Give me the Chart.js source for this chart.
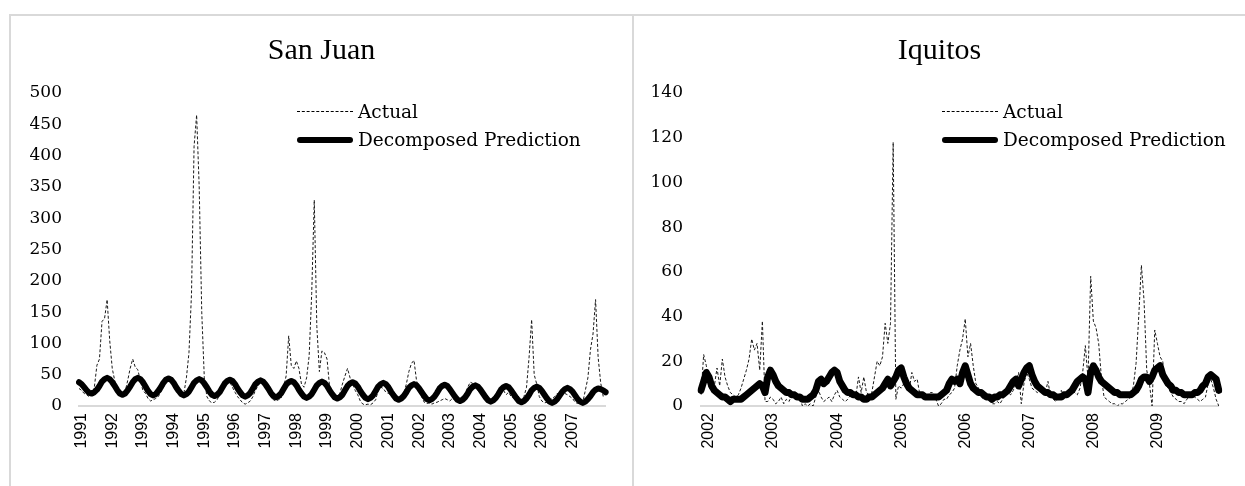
<!DOCTYPE html>
<html>
<head>
<meta charset="utf-8">
<script src="https://cdn.jsdelivr.net/npm/chart.js@4.4.0/dist/chart.umd.min.js"></script>
<style>
    html, body { margin: 0; padding: 0; background: #ffffff; }
    body { width: 1245px; height: 486px; position: relative; overflow: hidden; }
    .frame-top { position: absolute; left: 10px; top: 14px; width: 1235px; height: 0; border-top: 2px solid #d9d9d9; }
    .frame-left { position: absolute; left: 9px; top: 14px; width: 0; height: 472px; border-left: 2px solid #d9d9d9; }
    .frame-mid { position: absolute; left: 632px; top: 14px; width: 0; height: 472px; border-left: 2px solid #d9d9d9; }
    canvas { position: absolute; }
    #sanJuan { left: 11px; top: 16px; }
    #iquitos { left: 634px; top: 16px; }
    .legend { position: absolute; font-family: 'DejaVu Serif', serif; font-size: 18.5px; color: #000; }
    .legend .row { position: absolute; left: 0; white-space: nowrap; height: 24px; line-height: 24px; }
    .legend .dash { position: absolute; left: 0; top: 11px; width: 56px; border-top: 1px dashed #000; }
    .legend .thick { position: absolute; left: 0; top: 9px; width: 56px; height: 6px; background: #000; border-radius: 3px; }
    .legend .txt { position: absolute; left: 61px; top: 0; }
</style>
</head>
<body>
<div class="frame-top"></div>
<div class="frame-left"></div>
<div class="frame-mid"></div>
<canvas id="sanJuan" width="621" height="470"></canvas>
<canvas id="iquitos" width="611" height="470"></canvas>

<div class="legend" style="left:297px; top:0;">
    <div class="row" style="top:100px;"><div class="dash"></div><div class="txt">Actual</div></div>
    <div class="row" style="top:128px;"><div class="thick"></div><div class="txt">Decomposed Prediction</div></div>
</div>
<div class="legend" style="left:942px; top:0;">
    <div class="row" style="top:100px;"><div class="dash"></div><div class="txt">Actual</div></div>
    <div class="row" style="top:128px;"><div class="thick"></div><div class="txt">Decomposed Prediction</div></div>
</div>

<script>
// San Juan - roughly monthly samples, first year tick at index 1
const sjYears = ['1991', '1992', '1993', '1994', '1995', '1996', '1997', '1998', '1999',
    '2000', '2001', '2002', '2003', '2004', '2005', '2006', '2007'];
const sjPerYear = 12;
const sjFirstTick = 1;

const sjActual = [
    28, 25, 20, 18, 15, 18, 30, 65, 75, 135, 140, 170, 105, 60, 40, 25, 20, 18,
    22, 40, 60, 75, 62, 58, 40, 25, 20, 12, 8, 10,
    12, 15, 22, 30, 38, 40, 38, 35, 30, 20, 15, 20,
    45, 85, 180, 415, 465, 350, 150, 45, 15, 8, 5, 6,
    10, 18, 28, 38, 45, 38, 30, 22, 15, 10, 5, 3,
    5, 8, 15, 25, 32, 38, 35, 30, 22, 15, 10, 8,
    10, 12, 30, 48, 112, 65, 60, 72, 60, 35, 30, 45,
    80, 180, 329, 127, 55, 88, 85, 75, 30, 15, 12, 12,
    20, 35, 48, 60, 45, 35, 25, 18, 8, 3, 2, 3,
    2, 5, 10, 25, 30, 28, 22, 20, 18, 15, 10, 8,
    10, 20, 35, 55, 68, 73, 40, 30, 15, 6, 4, 5,
    3, 5, 6, 8, 10, 12, 10, 8, 12, 10, 6, 8,
    12, 20, 30, 38, 36, 30, 25, 20, 22, 15, 8, 5,
    6, 8, 15, 20, 25, 18, 22, 15, 12, 8, 10, 8,
    15, 30, 78, 138, 50, 35, 15, 8, 5, 6, 10, 12,
    15, 20, 18, 22, 20, 18, 15, 12, 6, 4, 5, 6,
    25, 45, 90, 115, 170, 78, 37, 15, 20
];

const sjPredicted = [
    38, 35, 30, 25, 21, 20, 22, 26, 32, 39, 43, 45,
    43, 38, 32, 25, 20, 18, 20, 25, 31, 38, 43, 45,
    43, 38, 31, 24, 19, 17, 19, 24, 30, 37, 42, 44,
    42, 37, 30, 24, 19, 17, 19, 23, 30, 37, 41, 43,
    41, 36, 30, 23, 18, 16, 18, 22, 29, 36, 40, 42,
    40, 35, 28, 22, 17, 15, 17, 21, 28, 35, 39, 41,
    39, 34, 28, 21, 16, 14, 16, 20, 27, 34, 38, 40,
    38, 33, 26, 20, 15, 13, 15, 19, 26, 33, 37, 39,
    37, 32, 25, 19, 14, 12, 14, 18, 25, 32, 36, 38,
    36, 31, 24, 18, 13, 11, 13, 17, 24, 31, 35, 37,
    35, 30, 23, 17, 12, 10, 12, 16, 22, 29, 33, 35,
    33, 28, 22, 16, 11, 9, 11, 15, 21, 28, 32, 34,
    32, 27, 21, 15, 10, 8, 10, 14, 20, 27, 31, 33,
    31, 26, 20, 14, 9, 7, 9, 13, 19, 26, 30, 32,
    30, 25, 19, 13, 8, 6, 8, 12, 18, 25, 29, 31,
    29, 24, 18, 12, 7, 5, 7, 11, 17, 23, 27, 29,
    27, 23, 17, 11, 7, 5, 7, 11, 16, 22, 26, 28,
    27, 25, 22
];

// Iquitos - roughly half-monthly samples, first year tick at index 3
const iqYears = ['2002', '2003', '2004', '2005', '2006', '2007', '2008', '2009'];
const iqPerYear = 24;
const iqFirstTick = 3;

const iqActual = [
    5, 23, 18, 8, 7, 9, 17, 9, 21, 13, 9, 6, 5, 4, 5, 8, 12, 16, 21, 30,
    25, 28, 16, 38, 2, 2, 4, 3, 1, 2, 4, 1, 3, 2, 5, 4, 5, 4, 0, 1,
    0, 1, 0, 4, 7, 4, 2, 3, 4, 2, 5, 7, 4, 3, 2, 3, 5, 6, 4, 13,
    6, 13, 6, 5, 6, 13, 20, 18, 22, 37, 28, 37, 118, 3, 9, 8, 10, 13, 7, 15,
    11, 12, 5, 6, 4, 5, 6, 6, 3, 0, 1, 3, 3, 5, 6, 8, 18, 25, 30, 39,
    22, 28, 18, 10, 8, 4, 3, 5, 3, 1, 1, 2, 1, 3, 5, 6, 5, 7, 10, 15,
    1, 10, 15, 12, 8, 7, 6, 7, 8, 6, 11, 4, 3, 2, 4, 7, 4, 5, 6, 7,
    6, 5, 8, 15, 27, 12, 58, 38, 35, 28, 13, 4, 3, 2, 1, 1, 0, 1, 1, 2,
    3, 4, 9, 19, 40, 63, 47, 16, 10, 0, 34, 28, 22, 20, 10, 8, 6, 4, 3, 2,
    2, 1, 3, 4, 5, 4, 3, 2, 3, 4, 10, 12, 8, 3, 0
];

const iqPredicted = [
    7, 11, 15, 13, 9, 7, 6, 5, 4, 4, 3, 2, 3, 3, 3, 3, 4, 5, 6, 7,
    8, 9, 10, 9, 6, 13, 16, 14, 11, 9, 8, 7, 6, 6, 5, 5, 4, 4, 3, 3,
    3, 4, 5, 7, 11, 12, 10, 11, 13, 15, 16, 15, 11, 9, 7, 6, 6, 5, 5, 4,
    4, 3, 3, 4, 4, 5, 6, 7, 8, 10, 12, 9, 11, 13, 16, 17, 13, 10, 8, 7,
    6, 5, 5, 5, 4, 4, 4, 4, 4, 4, 5, 6, 7, 10, 12, 11, 12, 10, 15, 18,
    14, 10, 8, 7, 6, 6, 5, 4, 4, 3, 4, 4, 5, 5, 6, 7, 9, 11, 12, 9,
    12, 15, 17, 18, 14, 11, 9, 8, 7, 6, 6, 5, 5, 4, 4, 4, 5, 5, 6, 7,
    9, 11, 12, 13, 12, 6, 15, 18, 16, 13, 11, 10, 9, 8, 7, 6, 6, 5, 5, 5,
    5, 5, 6, 7, 9, 12, 13, 13, 11, 13, 16, 17, 18, 14, 12, 10, 9, 7, 7, 6,
    6, 5, 5, 5, 5, 6, 6, 7, 9, 10, 13, 14, 13, 12, 7
];

Chart.defaults.font.family = "'DejaVu Serif', serif";
Chart.defaults.color = '#000000';
Chart.defaults.animation = false;

function createDengueChart(canvasId, opts) {
    const ctx = document.getElementById(canvasId);
    if (!ctx) return null;

    const labels = opts.actual.map((v, i) => i);

    return new Chart(ctx, {
        type: 'line',
        data: {
            labels: labels,
            datasets: [{
                label: 'Decomposed Prediction',
                data: opts.predicted,
                borderColor: '#000000',
                borderWidth: opts.thickWidth,
                borderCapStyle: 'round',
                borderJoinStyle: 'round',
                pointRadius: 0,
                tension: 0,
                fill: false
            }, {
                label: 'Actual',
                data: opts.actual,
                borderColor: '#1a1a1a',
                borderWidth: 1,
                borderDash: [3, 2],
                pointRadius: 0,
                tension: 0,
                fill: false
            }]
        },
        options: {
            responsive: false,
            devicePixelRatio: 1,
            layout: {
                padding: 0
            },
            plugins: {
                legend: { display: false },
                tooltip: { enabled: false },
                title: {
                    display: true,
                    text: opts.title,
                    color: '#000000',
                    font: { family: "'Liberation Serif', serif", size: 30, weight: 'normal', lineHeight: 1.2 },
                    padding: { top: 17, bottom: 24 }
                }
            },
            scales: {
                x: {
                    type: 'category',
                    grid: { display: false, drawTicks: false },
                    border: { display: true, color: '#d9d9d9', width: 2 },
                    ticks: {
                        autoSkip: false,
                        maxRotation: 90,
                        minRotation: 90,
                        padding: 7,
                        color: '#000000',
                        font: { family: "'Liberation Sans', sans-serif", size: 16 },
                        callback: (value, index) => {
                            const k = index - opts.firstTick;
                            if (k < 0 || k % opts.perYear !== 0) return '';
                            const y = opts.years[k / opts.perYear];
                            return y === undefined ? '' : y;
                        }
                    },
                    afterFit: (scale) => { scale.height = 80; }
                },
                y: {
                    min: 0,
                    max: opts.yMax,
                    grid: { display: false, drawTicks: false },
                    border: { display: false },
                    ticks: {
                        stepSize: opts.yStep,
                        padding: opts.yPad,
                        color: '#000000',
                        font: { size: 17 }
                    },
                    afterFit: (scale) => { scale.width = opts.yWidth; }
                },
                // empty right-hand gap so the title stays centred on the whole panel
                gap: {
                    type: 'linear',
                    position: 'right',
                    grid: { display: false, drawTicks: false },
                    border: { display: false },
                    ticks: { display: false },
                    afterFit: (scale) => { scale.width = opts.padRight; }
                }
            }
        }
    });
}

createDengueChart('sanJuan', {
    title: 'San Juan',
    actual: sjActual,
    predicted: sjPredicted,
    years: sjYears,
    perYear: sjPerYear,
    firstTick: sjFirstTick,
    yMax: 500,
    yStep: 50,
    yWidth: 68,
    yPad: 17,
    padRight: 24,
    thickWidth: 6
});

createDengueChart('iquitos', {
    title: 'Iquitos',
    actual: iqActual,
    predicted: iqPredicted,
    years: iqYears,
    perYear: iqPerYear,
    firstTick: iqFirstTick,
    yMax: 140,
    yStep: 20,
    yWidth: 67,
    yPad: 18,
    padRight: 15,
    thickWidth: 7
});
</script>
</body>
</html>
